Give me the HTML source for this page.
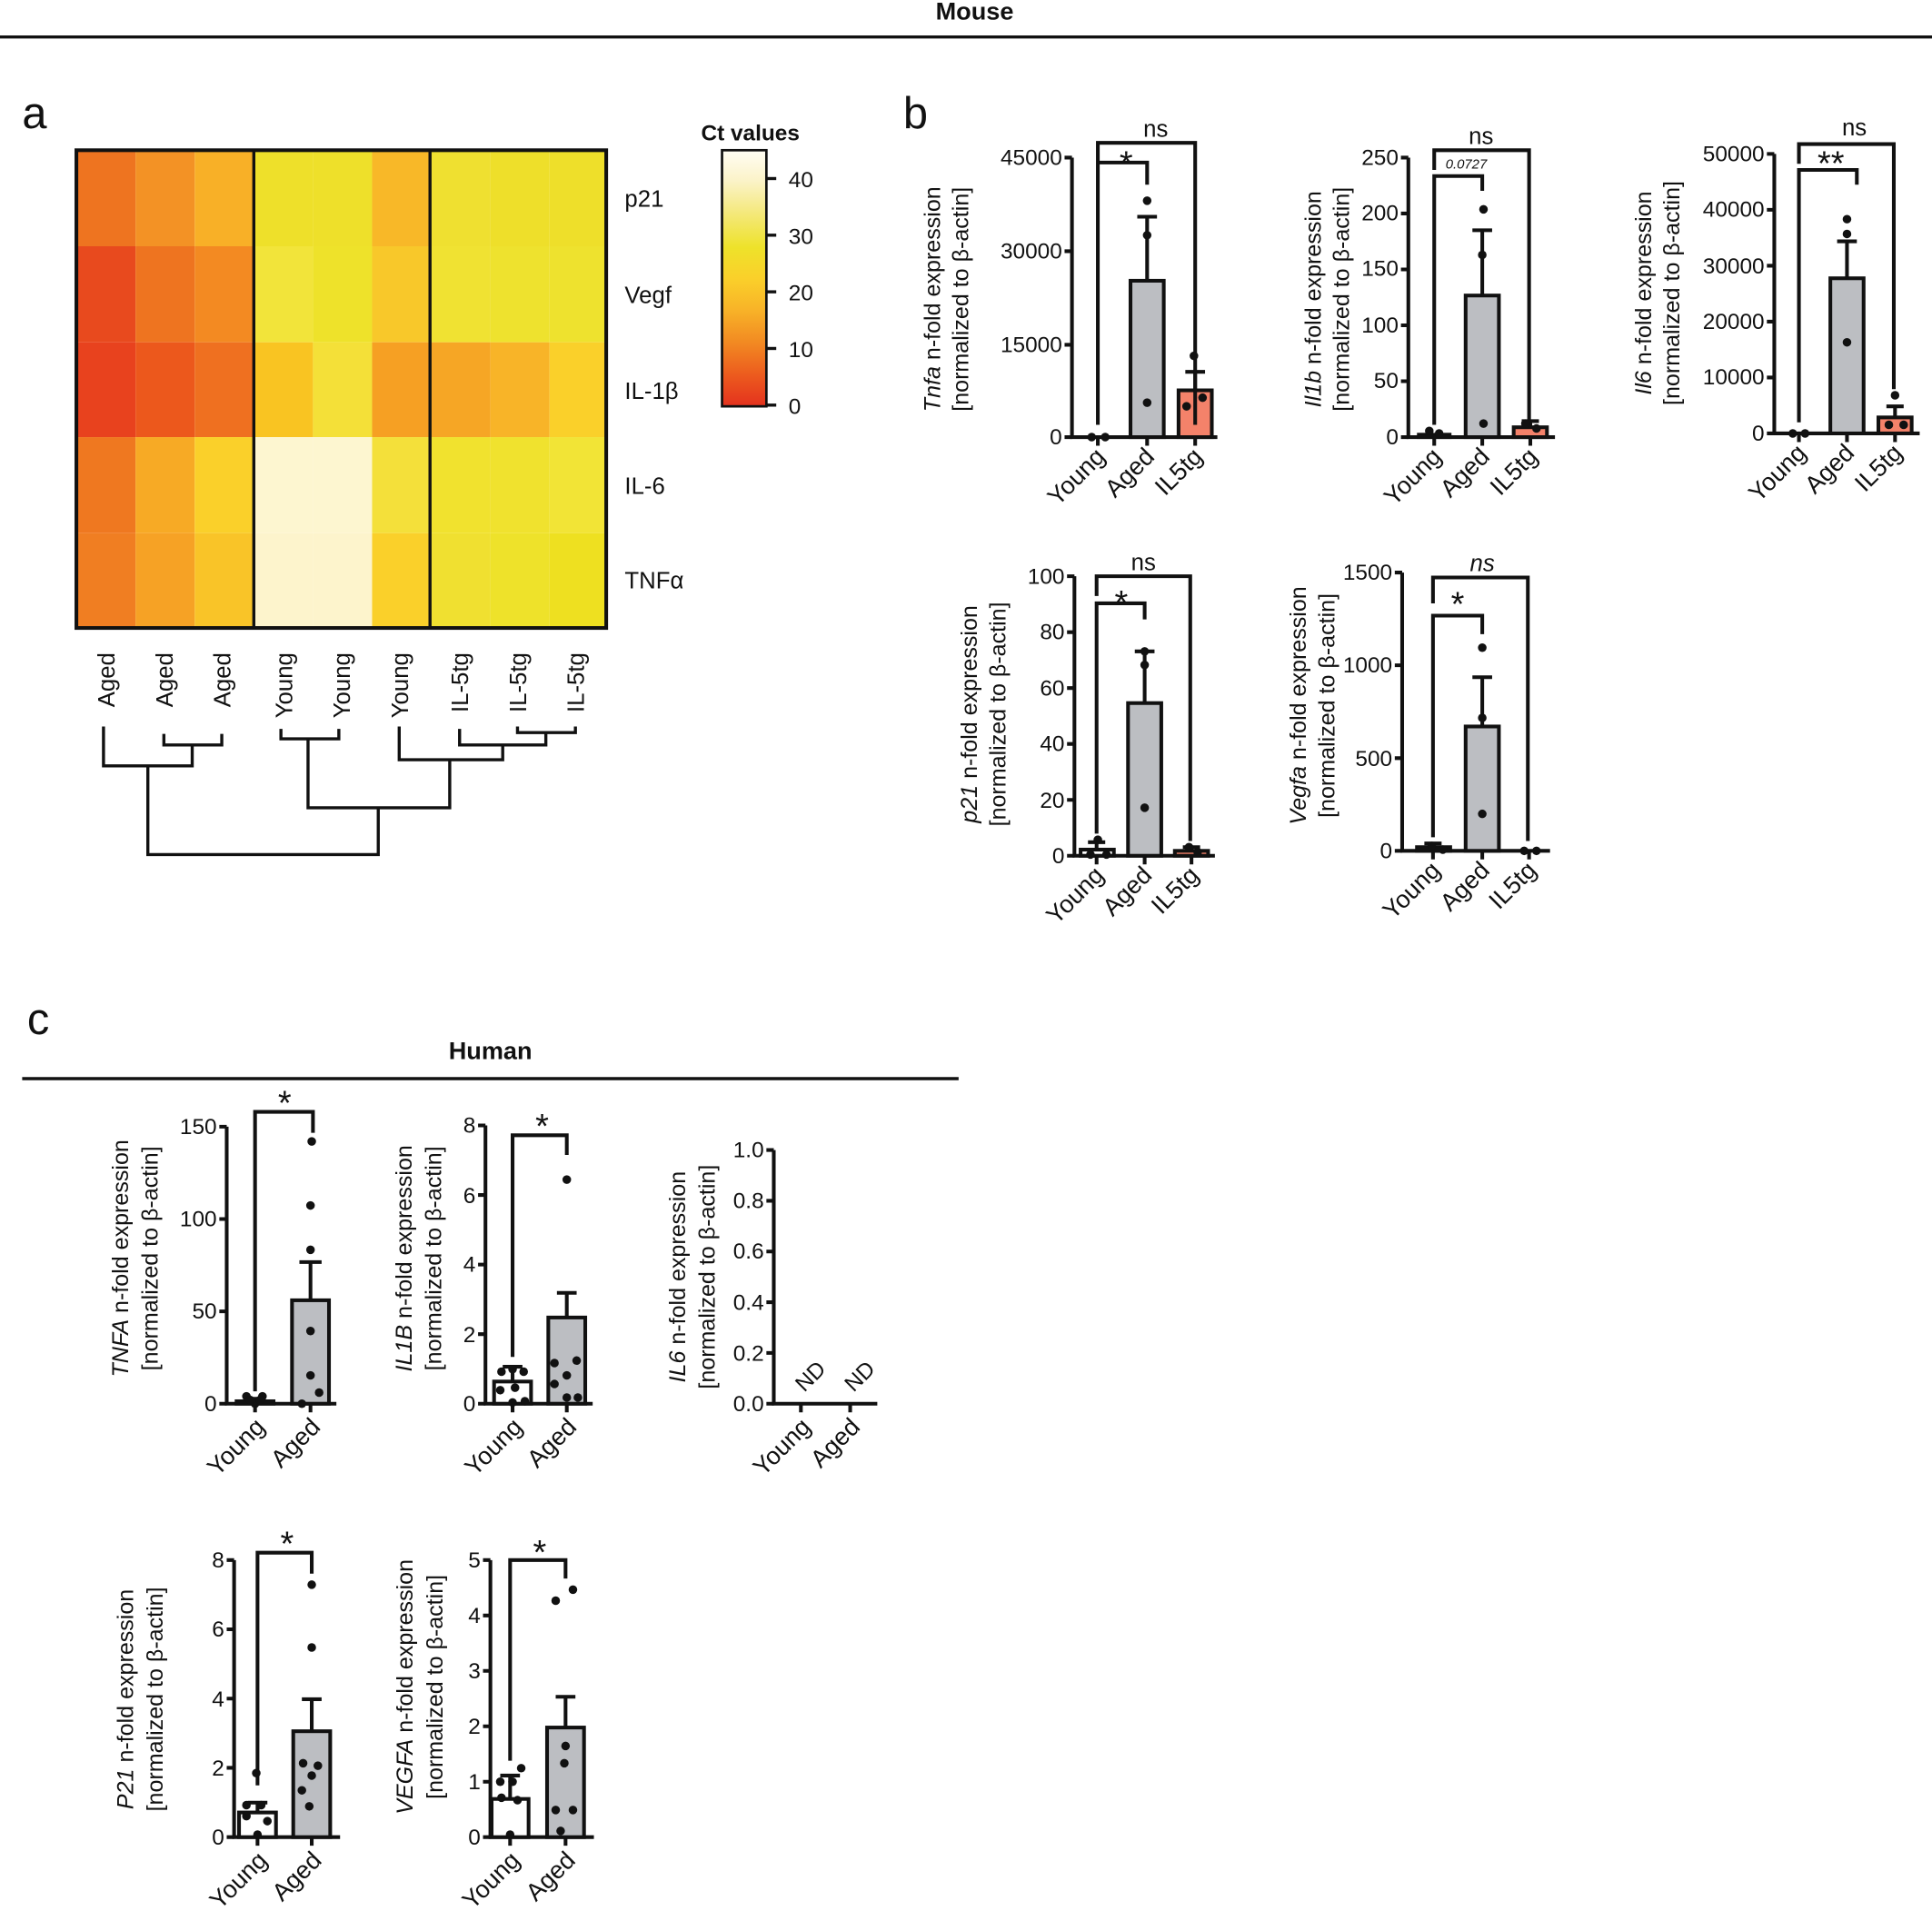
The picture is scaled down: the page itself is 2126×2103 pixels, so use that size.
<!DOCTYPE html>
<html><head><meta charset="utf-8"><style>
html,body{margin:0;padding:0;background:#fff;}
svg{display:block;}
text{font-family:"Liberation Sans",sans-serif;fill:#111;}
</style></head><body>
<svg width="2126" height="2103" viewBox="0 0 1568 1552" preserveAspectRatio="none" xmlns="http://www.w3.org/2000/svg">
<defs>
<linearGradient id="cb" x1="0" y1="1" x2="0" y2="0">
<stop offset="0" stop-color="#e4321e"/>
<stop offset="0.12" stop-color="#ec5a1e"/>
<stop offset="0.25" stop-color="#f28a22"/>
<stop offset="0.38" stop-color="#f8b428"/>
<stop offset="0.5" stop-color="#fad02a"/>
<stop offset="0.62" stop-color="#eee22a"/>
<stop offset="0.75" stop-color="#f4e878"/>
<stop offset="0.88" stop-color="#fbf3c8"/>
<stop offset="1" stop-color="#fffdf4"/>
</linearGradient>
</defs>
<text x="791" y="16" font-size="20" font-weight="bold" text-anchor="middle">Mouse</text>
<line x1="0" y1="30" x2="1568" y2="30" stroke="#111" stroke-width="2.5"/>
<text x="18" y="104" font-size="36">a</text>
<text x="733" y="104" font-size="36">b</text>
<text x="22" y="840" font-size="36">c</text>

<g>
<rect x="62" y="122" width="48" height="78" fill="#ee7420"/><rect x="110" y="122" width="48" height="78" fill="#f39225"/><rect x="158" y="122" width="48" height="78" fill="#f8b027"/><rect x="206" y="122" width="48" height="78" fill="#eee02a"/><rect x="254" y="122" width="48" height="78" fill="#eee02a"/><rect x="302" y="122" width="48" height="78" fill="#f8b828"/><rect x="350" y="122" width="48" height="78" fill="#efe030"/><rect x="398" y="122" width="48" height="78" fill="#eedf2a"/><rect x="446" y="122" width="46" height="78" fill="#eedf2a"/>
<rect x="62" y="200" width="48" height="78" fill="#e84a1e"/><rect x="110" y="200" width="48" height="78" fill="#ee7420"/><rect x="158" y="200" width="48" height="78" fill="#f38a22"/><rect x="206" y="200" width="48" height="78" fill="#f2e43a"/><rect x="254" y="200" width="48" height="78" fill="#eee22a"/><rect x="302" y="200" width="48" height="78" fill="#f8c82a"/><rect x="350" y="200" width="48" height="78" fill="#f0e232"/><rect x="398" y="200" width="48" height="78" fill="#eee22e"/><rect x="446" y="200" width="46" height="78" fill="#eee22e"/>
<rect x="62" y="278" width="48" height="77" fill="#e8421e"/><rect x="110" y="278" width="48" height="77" fill="#ec581c"/><rect x="158" y="278" width="48" height="77" fill="#ef7020"/><rect x="206" y="278" width="48" height="77" fill="#f9c422"/><rect x="254" y="278" width="48" height="77" fill="#f4e038"/><rect x="302" y="278" width="48" height="77" fill="#f6a023"/><rect x="350" y="278" width="48" height="77" fill="#f6a625"/><rect x="398" y="278" width="48" height="77" fill="#f8b428"/><rect x="446" y="278" width="46" height="77" fill="#fad02a"/>
<rect x="62" y="355" width="48" height="78" fill="#ef7820"/><rect x="110" y="355" width="48" height="78" fill="#f7aa25"/><rect x="158" y="355" width="48" height="78" fill="#fad02a"/><rect x="206" y="355" width="48" height="78" fill="#fdf6d0"/><rect x="254" y="355" width="48" height="78" fill="#fdf6d0"/><rect x="302" y="355" width="48" height="78" fill="#f4e03a"/><rect x="350" y="355" width="48" height="78" fill="#f1e22e"/><rect x="398" y="355" width="48" height="78" fill="#f0e22e"/><rect x="446" y="355" width="46" height="78" fill="#f2e436"/>
<rect x="62" y="433" width="48" height="77" fill="#f07e22"/><rect x="110" y="433" width="48" height="77" fill="#f6a225"/><rect x="158" y="433" width="48" height="77" fill="#f9c428"/><rect x="206" y="433" width="48" height="77" fill="#fdf4cc"/><rect x="254" y="433" width="48" height="77" fill="#fdf4cc"/><rect x="302" y="433" width="48" height="77" fill="#fad02a"/><rect x="350" y="433" width="48" height="77" fill="#f0e030"/><rect x="398" y="433" width="48" height="77" fill="#eee22a"/><rect x="446" y="433" width="46" height="77" fill="#eee020"/>
<rect x="62" y="122" width="430" height="388" fill="none" stroke="#111" stroke-width="3"/>
<line x1="206" y1="122" x2="206" y2="510" stroke="#111" stroke-width="2.5"/>
<line x1="349" y1="122" x2="349" y2="510" stroke="#111" stroke-width="2.5"/>
<g font-size="19">
<text x="507" y="168">p21</text><text x="507" y="246">Vegf</text><text x="507" y="324">IL-1β</text><text x="507" y="401">IL-6</text><text x="507" y="478">TNFα</text>
</g>
<g font-size="19" text-anchor="end">
<text transform="translate(93,530) rotate(-90)">Aged</text>
<text transform="translate(140,530) rotate(-90)">Aged</text>
<text transform="translate(187,530) rotate(-90)">Aged</text>
<text transform="translate(237,530) rotate(-90)">Young</text>
<text transform="translate(284,530) rotate(-90)">Young</text>
<text transform="translate(331,530) rotate(-90)">Young</text>
<text transform="translate(380,530) rotate(-90)">IL-5tg</text>
<text transform="translate(427,530) rotate(-90)">IL-5tg</text>
<text transform="translate(474,530) rotate(-90)">IL-5tg</text>
</g>
<g stroke="#111" stroke-width="2.5" fill="none">
<path d="M84,590 V622 H156 V605 M133,596 V605 H180 V596 M120,622 V694 H307 V656"/>
<path d="M228,592 V600 H275 V592 M250,600 V656 H365 V617"/>
<path d="M324,590 V617 H408 V605 M373,592 V605 H443 V595 M420,590 V595 H467 V590"/>
</g>
</g>
<text x="569" y="114" font-size="18" font-weight="bold">Ct values</text>
<rect x="586" y="122" width="36" height="208" fill="url(#cb)" stroke="#111" stroke-width="2"/>
<g stroke="#111" stroke-width="2.5"><line x1="622" y1="145" x2="630" y2="145"/><line x1="622" y1="191" x2="630" y2="191"/><line x1="622" y1="237" x2="630" y2="237"/><line x1="622" y1="283" x2="630" y2="283"/><line x1="622" y1="329" x2="630" y2="329"/></g>
<g font-size="18"><text x="640" y="152">40</text><text x="640" y="198">30</text><text x="640" y="244">20</text><text x="640" y="290">10</text><text x="640" y="336">0</text></g>

<g stroke="#111" stroke-width="3" fill="none" stroke-linecap="butt">
<path d="M870,128 V355 H988"/>
<path d="M864,128 H870 M864,204 H870 M864,280 H870 M864,355 H870"/>
<path d="M891,355 V362 M931,355 V362 M970,355 V362"/>
<rect x="917.5" y="228" width="27" height="127" fill="#bcbec2"/>
<rect x="956.5" y="317" width="27" height="38" fill="#f4826a"/>
<path d="M931,228 V176 M923,176 H939 M970,317 V302 M962,302 H978"/>
<path d="M891,345 V132 H931 V150 M891,132 V116 H970 V345"/>
<path d="M1143,128 V355 H1262"/>
<path d="M1137,128 H1143 M1137,173.4 H1143 M1137,218.8 H1143 M1137,264.2 H1143 M1137,309.6 H1143 M1137,355 H1143"/>
<path d="M1164,355 V362 M1203,355 V362 M1242,355 V362"/>
<rect x="1151.5" y="353" width="25" height="2" fill="#fff"/>
<rect x="1189.5" y="240" width="27" height="115" fill="#bcbec2"/>
<rect x="1228.5" y="347" width="27" height="8" fill="#f4826a"/>
<path d="M1203,240 V187 M1195,187 H1211 M1242,347 V342 M1235,342 H1249"/>
<path d="M1164,345 V143 H1203 V155 M1164,138 V122 H1241 V343"/>
<path d="M1440,125 V352 H1558"/>
<path d="M1434,125 H1440 M1434,170.4 H1440 M1434,215.8 H1440 M1434,261.2 H1440 M1434,306.6 H1440 M1434,352 H1440"/>
<path d="M1460,352 V359 M1499,352 V359 M1538,352 V359"/>
<rect x="1485.5" y="226" width="27" height="126" fill="#bcbec2"/>
<rect x="1524.5" y="339" width="27" height="13" fill="#f4826a"/>
<path d="M1499,226 V196 M1491,196 H1507 M1538,339 V330 M1531,330 H1545"/>
<path d="M1460,343 V138 H1507 V150 M1460,133 V117 H1537 V316"/>
<path d="M872,468 V695 H986"/>
<path d="M866,468 H872 M866,513.4 H872 M866,558.8 H872 M866,604.2 H872 M866,649.6 H872 M866,695 H872"/>
<path d="M890,695 V702 M929,695 V702 M967,695 V702"/>
<rect x="877" y="690" width="27" height="5" fill="#fff"/>
<rect x="915.5" y="571" width="27" height="124" fill="#bcbec2"/>
<rect x="953.5" y="691" width="27" height="4" fill="#f4826a"/>
<path d="M890,690 V684 M883,684 H897 M929,571 V529 M921,529 H937 M967,691 V688 M960,688 H974"/>
<path d="M890,677 V490 H929 V503 M890,484 V468 H966 V683"/>
<path d="M1138,465 V691 H1258"/>
<path d="M1132,465 H1138 M1132,540.3 H1138 M1132,615.7 H1138 M1132,691 H1138"/>
<path d="M1163,691 V698 M1203,691 V698 M1241,691 V698"/>
<rect x="1150" y="688" width="27" height="3" fill="#fff"/>
<rect x="1189.5" y="590" width="27" height="101" fill="#bcbec2"/>
<path d="M1163,688 V685 M1156,685 H1170 M1203,590 V550 M1195,550 H1211"/>
<path d="M1163,680 V500 H1203 V515 M1163,490 V469 H1240 V683"/>

<line x1="18" y1="876" x2="778" y2="876" stroke-width="2.5"/>
<path d="M184,915 V1140 H273"/>
<path d="M178,915 H184 M178,990 H184 M178,1065 H184 M178,1140 H184"/>
<path d="M207,1140 V1147 M252,1140 V1147"/>
<rect x="192" y="1138" width="30" height="2" fill="#fff"/>
<rect x="237" y="1056" width="30" height="84" fill="#bcbec2"/>
<path d="M252,1056 V1025 M243,1025 H261 M207,1138 V1136 M200,1136 H214"/>
<path d="M207,1130 V903 H254 V920"/>
<path d="M394,914 V1140 H481"/>
<path d="M388,914 H394 M388,970.5 H394 M388,1027 H394 M388,1083.5 H394 M388,1140 H394"/>
<path d="M416,1140 V1147 M460,1140 V1147"/>
<rect x="401" y="1122" width="30" height="18" fill="#fff"/>
<rect x="445" y="1070" width="30" height="70" fill="#bcbec2"/>
<path d="M416,1122 V1110 M408,1110 H424 M460,1070 V1050 M452,1050 H468"/>
<path d="M416,1102 V922 H460 V938"/>
<path d="M628,934 V1140 H712"/>
<path d="M622,934 H628 M622,975.2 H628 M622,1016.4 H628 M622,1057.6 H628 M622,1098.8 H628 M622,1140 H628"/>
<path d="M650,1140 V1147 M690,1140 V1147"/>
<path d="M190,1267 V1492 H276"/>
<path d="M184,1267 H190 M184,1323.2 H190 M184,1379.5 H190 M184,1435.7 H190 M184,1492 H190"/>
<path d="M209,1492 V1499 M253,1492 V1499"/>
<rect x="194" y="1472" width="30" height="20" fill="#fff"/>
<rect x="238" y="1406" width="30" height="86" fill="#bcbec2"/>
<path d="M209,1472 V1464 M201,1464 H217 M253,1406 V1380 M245,1380 H261"/>
<path d="M209,1450 V1261 H253 V1278"/>
<path d="M398,1267 V1492 H482"/>
<path d="M392,1267 H398 M392,1312 H398 M392,1357 H398 M392,1402 H398 M392,1447 H398 M392,1492 H398"/>
<path d="M414,1492 V1499 M459,1492 V1499"/>
<rect x="399" y="1461" width="30" height="31" fill="#fff"/>
<rect x="444" y="1403" width="30" height="89" fill="#bcbec2"/>
<path d="M414,1461 V1442 M406,1442 H422 M459,1403 V1378 M451,1378 H467"/>
<path d="M414,1430 V1267 H459 V1282"/>
</g>

<g fill="#111">
<circle cx="886" cy="355" r="3.5"/><circle cx="897" cy="355" r="3.5"/>
<circle cx="931" cy="163" r="3.5"/><circle cx="931" cy="191" r="3.5"/><circle cx="931" cy="327" r="3.5"/>
<circle cx="969" cy="289" r="3.5"/><circle cx="976" cy="323" r="3.5"/><circle cx="963" cy="330" r="3.5"/>
<circle cx="1160" cy="350" r="3.5"/><circle cx="1168" cy="352" r="3.5"/>
<circle cx="1204" cy="170" r="3.5"/><circle cx="1203" cy="207" r="3.5"/><circle cx="1204" cy="344" r="3.5"/>
<circle cx="1238" cy="344" r="3.5"/><circle cx="1247" cy="348" r="3.5"/>
<circle cx="1455" cy="352" r="3.5"/><circle cx="1465" cy="352" r="3.5"/>
<circle cx="1499" cy="178" r="3.5"/><circle cx="1499" cy="190" r="3.5"/><circle cx="1499" cy="278" r="3.5"/>
<circle cx="1538" cy="321" r="3.5"/><circle cx="1533" cy="345" r="3.5"/><circle cx="1545" cy="345" r="3.5"/>
<circle cx="891" cy="682" r="3.5"/><circle cx="885" cy="694" r="3.5"/><circle cx="898" cy="694" r="3.5"/>
<circle cx="929" cy="529" r="3.5"/><circle cx="929" cy="540" r="3.5"/><circle cx="929" cy="656" r="3.5"/>
<circle cx="965" cy="688" r="3.5"/><circle cx="972" cy="692" r="3.5"/>
<circle cx="1162" cy="687" r="3.5"/><circle cx="1171" cy="690" r="3.5"/>
<circle cx="1203" cy="526" r="3.5"/><circle cx="1203" cy="583" r="3.5"/><circle cx="1203" cy="661" r="3.5"/>
<circle cx="1237" cy="691" r="3.5"/><circle cx="1247" cy="691" r="3.5"/>
<circle cx="200" cy="1134" r="3.5"/><circle cx="213" cy="1134" r="3.5"/><circle cx="207" cy="1140" r="3.5"/><circle cx="203" cy="1137" r="3.5"/><circle cx="211" cy="1137" r="3.5"/>
<circle cx="253" cy="927" r="3.5"/><circle cx="252" cy="979" r="3.5"/><circle cx="252" cy="1015" r="3.5"/><circle cx="252" cy="1081" r="3.5"/><circle cx="252" cy="1117" r="3.5"/><circle cx="259" cy="1131" r="3.5"/><circle cx="245" cy="1140" r="3.5"/>
<circle cx="407" cy="1114" r="3.5"/><circle cx="416" cy="1112" r="3.5"/><circle cx="425" cy="1114" r="3.5"/><circle cx="406" cy="1129" r="3.5"/><circle cx="418" cy="1127" r="3.5"/><circle cx="426" cy="1138" r="3.5"/><circle cx="416" cy="1139" r="3.5"/>
<circle cx="460" cy="958" r="3.5"/><circle cx="468" cy="1105" r="3.5"/><circle cx="450" cy="1107" r="3.5"/><circle cx="460" cy="1117" r="3.5"/><circle cx="450" cy="1124" r="3.5"/><circle cx="460" cy="1135" r="3.5"/><circle cx="469" cy="1135" r="3.5"/>
<circle cx="208" cy="1440" r="3.5"/><circle cx="200" cy="1466" r="3.5"/><circle cx="212" cy="1466" r="3.5"/><circle cx="200" cy="1475" r="3.5"/><circle cx="217" cy="1479" r="3.5"/><circle cx="209" cy="1490" r="3.5"/>
<circle cx="253" cy="1287" r="3.5"/><circle cx="253" cy="1338" r="3.5"/><circle cx="246" cy="1432" r="3.5"/><circle cx="258" cy="1434" r="3.5"/><circle cx="253" cy="1442" r="3.5"/><circle cx="245" cy="1454" r="3.5"/><circle cx="251" cy="1467" r="3.5"/>
<circle cx="406" cy="1447" r="3.5"/><circle cx="416" cy="1447" r="3.5"/><circle cx="423" cy="1436" r="3.5"/><circle cx="407" cy="1460" r="3.5"/><circle cx="420" cy="1462" r="3.5"/><circle cx="414" cy="1490" r="3.5"/>
<circle cx="465" cy="1291" r="3.5"/><circle cx="451" cy="1300" r="3.5"/><circle cx="459" cy="1418" r="3.5"/><circle cx="458" cy="1432" r="3.5"/><circle cx="451" cy="1470" r="3.5"/><circle cx="465" cy="1470" r="3.5"/><circle cx="455" cy="1487" r="3.5"/>
</g>

<g font-size="18" text-anchor="end">
<text x="862" y="134">45000</text><text x="862" y="210">30000</text><text x="862" y="286">15000</text><text x="862" y="361">0</text>
<text x="1135" y="134">250</text><text x="1135" y="179">200</text><text x="1135" y="224">150</text><text x="1135" y="270">100</text><text x="1135" y="315">50</text><text x="1135" y="361">0</text>
<text x="1432" y="131">50000</text><text x="1432" y="176">40000</text><text x="1432" y="222">30000</text><text x="1432" y="267">20000</text><text x="1432" y="312">10000</text><text x="1432" y="358">0</text>
<text x="864" y="474">100</text><text x="864" y="519">80</text><text x="864" y="565">60</text><text x="864" y="610">40</text><text x="864" y="656">20</text><text x="864" y="701">0</text>
<text x="1130" y="471">1500</text><text x="1130" y="546">1000</text><text x="1130" y="622">500</text><text x="1130" y="697">0</text>
<text x="176" y="921">150</text><text x="176" y="996">100</text><text x="176" y="1071">50</text><text x="176" y="1146">0</text>
<text x="386" y="920">8</text><text x="386" y="977">6</text><text x="386" y="1033">4</text><text x="386" y="1090">2</text><text x="386" y="1146">0</text>
<text x="620" y="940">1.0</text><text x="620" y="981">0.8</text><text x="620" y="1022">0.6</text><text x="620" y="1064">0.4</text><text x="620" y="1105">0.2</text><text x="620" y="1146">0.0</text>
<text x="182" y="1273">8</text><text x="182" y="1329">6</text><text x="182" y="1386">4</text><text x="182" y="1442">2</text><text x="182" y="1498">0</text>
<text x="390" y="1273">5</text><text x="390" y="1318">4</text><text x="390" y="1363">3</text><text x="390" y="1408">2</text><text x="390" y="1453">1</text><text x="390" y="1498">0</text>
</g>
<g font-size="20" text-anchor="end">
<text transform="translate(898,372) rotate(-45)">Young</text><text transform="translate(938,372) rotate(-45)">Aged</text><text transform="translate(977,372) rotate(-45)">IL5tg</text>
<text transform="translate(1171,372) rotate(-45)">Young</text><text transform="translate(1210,372) rotate(-45)">Aged</text><text transform="translate(1249,372) rotate(-45)">IL5tg</text>
<text transform="translate(1467,369) rotate(-45)">Young</text><text transform="translate(1506,369) rotate(-45)">Aged</text><text transform="translate(1545,369) rotate(-45)">IL5tg</text>
<text transform="translate(897,712) rotate(-45)">Young</text><text transform="translate(936,712) rotate(-45)">Aged</text><text transform="translate(974,712) rotate(-45)">IL5tg</text>
<text transform="translate(1170,708) rotate(-45)">Young</text><text transform="translate(1210,708) rotate(-45)">Aged</text><text transform="translate(1248,708) rotate(-45)">IL5tg</text>
<text transform="translate(216,1160) rotate(-45)">Young</text><text transform="translate(261,1160) rotate(-45)">Aged</text>
<text transform="translate(425,1160) rotate(-45)">Young</text><text transform="translate(469,1160) rotate(-45)">Aged</text>
<text transform="translate(659,1160) rotate(-45)">Young</text><text transform="translate(699,1160) rotate(-45)">Aged</text>
<text transform="translate(218,1512) rotate(-45)">Young</text><text transform="translate(262,1512) rotate(-45)">Aged</text>
<text transform="translate(423,1512) rotate(-45)">Young</text><text transform="translate(468,1512) rotate(-45)">Aged</text>
</g>
<g font-size="18" text-anchor="middle">
<text transform="translate(662,1122) rotate(-45)">ND</text>
<text transform="translate(702,1122) rotate(-45)">ND</text>
</g>
<g font-size="19" text-anchor="middle">
<text x="938" y="111">ns</text><text x="914" y="142" font-size="28">*</text>
<text x="1202" y="117">ns</text><text x="1190" y="137" font-size="11" font-style="italic">0.0727</text>
<text x="1505" y="110">ns</text><text x="1486" y="142" font-size="28">**</text>
<text x="928" y="463">ns</text><text x="910" y="499" font-size="28">*</text>
<text x="1203" y="464" font-style="italic">ns</text><text x="1183" y="500" font-size="28">*</text>
<text x="231" y="905" font-size="28">*</text>
<text x="440" y="924" font-size="28">*</text>
<text x="233" y="1263" font-size="28">*</text>
<text x="438" y="1270" font-size="28">*</text>
</g>
<text x="398" y="860" font-size="20" font-weight="bold" text-anchor="middle">Human</text>
<g font-size="18.5" text-anchor="middle">
<text transform="translate(763,243) rotate(-90)"><tspan font-style="italic">Tnfa</tspan> n-fold expression</text>
<text transform="translate(786,243) rotate(-90)">[normalized to β-actin]</text>
<text transform="translate(1072,243) rotate(-90)"><tspan font-style="italic">Il1b</tspan> n-fold expression</text>
<text transform="translate(1095,243) rotate(-90)">[normalized to β-actin]</text>
<text transform="translate(1340,238) rotate(-90)"><tspan font-style="italic">Il6</tspan> n-fold expression</text>
<text transform="translate(1363,238) rotate(-90)">[normalized to β-actin]</text>
<text transform="translate(793,580) rotate(-90)"><tspan font-style="italic">p21</tspan> n-fold expression</text>
<text transform="translate(816,580) rotate(-90)">[normalized to β-actin]</text>
<text transform="translate(1060,573) rotate(-90)"><tspan font-style="italic">Vegfa</tspan> n-fold expression</text>
<text transform="translate(1083,573) rotate(-90)">[normalized to β-actin]</text>
<text transform="translate(104,1022) rotate(-90)"><tspan font-style="italic">TNFA</tspan> n-fold expression</text>
<text transform="translate(128,1022) rotate(-90)">[normalized to β-actin]</text>
<text transform="translate(334,1022) rotate(-90)"><tspan font-style="italic">IL1B</tspan> n-fold expression</text>
<text transform="translate(358,1022) rotate(-90)">[normalized to β-actin]</text>
<text transform="translate(556,1037) rotate(-90)"><tspan font-style="italic">IL6</tspan> n-fold expression</text>
<text transform="translate(580,1037) rotate(-90)">[normalized to β-actin]</text>
<text transform="translate(108,1380) rotate(-90)"><tspan font-style="italic">P21</tspan> n-fold expression</text>
<text transform="translate(132,1380) rotate(-90)">[normalized to β-actin]</text>
<text transform="translate(335,1370) rotate(-90)"><tspan font-style="italic">VEGFA</tspan> n-fold expression</text>
<text transform="translate(359,1370) rotate(-90)">[normalized to β-actin]</text>
</g>
</svg>
</body></html>
